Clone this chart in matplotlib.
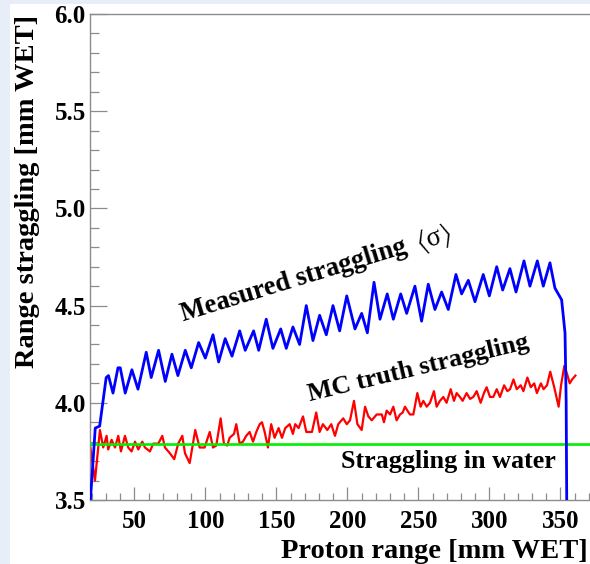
import matplotlib
matplotlib.use("Agg")
import matplotlib.pyplot as plt
from matplotlib.patches import Rectangle
from matplotlib.ticker import MultipleLocator, FormatStrFormatter

plt.rcParams['font.family'] = ['Liberation Serif', 'DejaVu Serif']
plt.rcParams['mathtext.fontset'] = 'stix'

# measured straggling <sigma> vs proton range
meas_x = [19.0, 22.4, 25.5, 30.1, 31.7, 34.9, 38.4, 40.0, 43.5, 48.2, 52.5, 58.3,
          61.8, 67.0, 71.7, 76.4, 80.6, 85.8, 90.0, 95.2, 99.9, 105.3, 109.3, 113.9,
          118.7, 124.1, 128.0, 133.9, 137.5, 142.8, 147.5, 153.0, 156.9, 161.6, 166.3,
          171.0, 175.7, 180.4, 185.1, 189.8, 194.5, 199.5, 205.3, 210.0, 214.0, 218.7,
          222.9, 228.0, 232.3, 237.5, 241.7, 247.5, 252.2, 256.9, 261.6, 266.3, 271.0,
          276.4, 280.4, 285.1, 289.8, 295.6, 299.9, 305.1, 309.3, 314.4, 318.7, 324.3,
          328.5, 333.7, 337.9, 342.6, 346.1, 350.8, 353.2, 354.0, 354.4]
meas_y = [3.50, 3.87, 3.88, 4.13, 4.14, 4.05, 4.18, 4.18, 4.05, 4.17, 4.07, 4.26,
          4.13, 4.27, 4.11, 4.25, 4.14, 4.27, 4.18, 4.31, 4.23, 4.35, 4.21, 4.33,
          4.24, 4.37, 4.27, 4.37, 4.27, 4.43, 4.28, 4.38, 4.28, 4.39, 4.30,
          4.50, 4.32, 4.45, 4.35, 4.50, 4.37, 4.55, 4.38, 4.46, 4.36, 4.62,
          4.43, 4.56, 4.43, 4.56, 4.46, 4.60, 4.42, 4.61, 4.48, 4.57, 4.48,
          4.66, 4.56, 4.63, 4.52, 4.66, 4.55, 4.70, 4.58, 4.69, 4.57, 4.73,
          4.60, 4.73, 4.60, 4.72, 4.59, 4.53, 4.36, 4.01, 3.50]

# MC truth straggling
mc_x = [19.0, 22.2, 25.7, 28.0, 30.4, 31.5, 33.9, 36.3, 38.6, 40.5, 43.3, 45.6,
        48.0, 50.4, 52.7, 55.5, 57.4, 60.9, 63.2, 66.8, 69.6, 71.5, 75.0, 78.0,
        80.8, 83.7, 85.6, 88.9, 92.8, 95.9, 99.4, 103.0, 105.3, 107.6, 110.7, 113.0,
        115.4, 117.0, 120.1, 121.7, 124.1, 126.4, 128.7, 131.1, 133.5, 135.8, 138.2,
        139.8, 141.7, 144.0, 146.3, 148.7, 151.5, 153.9, 156.2, 159.3, 161.6, 163.2,
        165.6, 168.7, 171.0, 175.0, 178.0, 180.4, 182.7, 185.8, 188.6, 191.2, 193.5,
        197.0, 199.5, 201.8, 204.6, 207.0, 210.0, 212.4, 214.7, 217.1, 220.6, 224.2,
        225.7, 227.6, 230.0, 232.3, 234.6, 237.0, 238.9, 240.5, 242.2, 244.0, 246.4,
        249.2, 251.5, 253.4, 255.8, 258.1, 260.9, 262.8, 265.1, 267.5, 269.8, 272.7,
        275.0, 276.9, 279.2, 281.1, 283.9, 286.3, 288.6, 291.0, 293.8, 296.1, 298.0,
        300.4, 302.7, 305.1, 307.4, 310.3, 312.6, 314.5, 316.9, 319.2, 322.0, 323.9,
        326.7, 329.1, 331.5, 333.4, 336.2, 338.1, 340.5, 342.8, 345.6, 348.7, 350.4,
        352.7, 354.6, 356.5, 358.2, 360.5]
mc_y = [3.77, 3.60, 3.86, 3.77, 3.83, 3.76, 3.81, 3.77, 3.83, 3.75, 3.83, 3.77,
        3.75, 3.80, 3.76, 3.80, 3.77, 3.75, 3.79, 3.79, 3.83, 3.77, 3.74, 3.71,
        3.79, 3.83, 3.74, 3.69, 3.86, 3.77, 3.77, 3.85, 3.77, 3.78, 3.92, 3.79,
        3.78, 3.82, 3.84, 3.89, 3.79, 3.80, 3.83, 3.85, 3.80, 3.85, 3.89,
        3.90, 3.85, 3.77, 3.89, 3.82, 3.87, 3.82, 3.87, 3.89, 3.84, 3.89,
        3.87, 3.93, 3.85, 3.85, 3.95, 3.85, 3.89, 3.86, 3.89, 3.83, 3.89,
        3.92, 3.89, 3.91, 4.01, 3.89, 3.86, 3.98, 3.93, 3.91, 3.94, 3.94,
        3.90, 3.96, 3.94, 3.98, 3.91, 3.94, 3.95, 3.98, 3.96, 3.94, 3.94,
        4.05, 3.98, 4.01, 3.98, 4.00, 4.06, 3.98, 4.01, 4.03, 4.00, 4.07,
        4.01, 4.05, 4.03, 4.01, 4.05, 4.02, 4.03, 4.06, 4.00, 4.05, 4.08,
        4.03, 4.03, 4.07, 4.03, 4.09, 4.06, 4.07, 4.12, 4.07, 4.09, 4.06,
        4.13, 4.08, 4.10, 4.05, 4.10, 4.07, 4.09, 4.16, 4.08, 3.98, 4.09,
        4.19, 4.15, 4.10, 4.12, 4.14]

water_level = 3.788

W, H = 590, 564
def fpos(x, y):
    # pixel position (from top left) -> figure fraction
    return x / W, 1 - y / H

fig = plt.figure(figsize=(W / 100, H / 100), dpi=100, facecolor='#e8eef8')
fig.patches.append(Rectangle((10 / W, 0), 1, 1 - 4 / H, transform=fig.transFigure,
                             facecolor='white', edgecolor='none', zorder=-1))

ax = fig.add_axes([90 / W, 64 / H, 502 / W, 486 / H])
ax.plot(mc_x, mc_y, color='#ff0000', lw=1.6, zorder=2)
ax.axhline(water_level, color='#00ee00', lw=1.9, zorder=3)
ax.plot(meas_x, meas_y, color='#0000ff', lw=2.0, zorder=4)

ax.set_xlim(18.7, 372.2)
ax.set_ylim(3.5, 6.0)
ax.xaxis.set_major_locator(MultipleLocator(50))
ax.xaxis.set_minor_locator(MultipleLocator(10))
ax.yaxis.set_major_locator(MultipleLocator(0.5))
ax.yaxis.set_minor_locator(MultipleLocator(0.1))
ax.yaxis.set_major_formatter(FormatStrFormatter('%.1f'))

for s in ax.spines.values():
    s.set_color('#8c8c8c')
    s.set_linewidth(1.0)
ax.tick_params(which='both', direction='in', color='#8c8c8c', width=0.9,
               labelsize=18, top=False, right=False)
ax.tick_params(axis='y', which='major', length=12, pad=3)
ax.tick_params(axis='y', which='minor', length=6.7)
ax.tick_params(axis='x', which='major', length=9.4, pad=7)
ax.tick_params(axis='x', which='minor', length=5)
for lab in ax.get_xticklabels() + ax.get_yticklabels():
    lab.set_fontweight('bold')

fig.text(*fpos(28, 15), 'Range straggling [mm WET]', rotation=90, ha='center',
         va='top', fontsize=20.5, fontweight='bold')
fig.text(*fpos(588, 558), 'Proton range [mm WET]', ha='right', va='baseline',
         fontsize=20.5, fontweight='bold')

fig.text(*fpos(183, 321), 'Measured straggling', rotation=17, rotation_mode='anchor',
         ha='left', va='baseline', fontsize=19.3, fontweight='bold')
fig.text(*fpos(419, 250), r'$\langle$σ$\rangle$', rotation=17, rotation_mode='anchor',
         ha='left', va='baseline', fontsize=19.3)
fig.text(*fpos(310, 401), 'MC truth straggling', rotation=13.5, rotation_mode='anchor',
         ha='left', va='baseline', fontsize=18.8, fontweight='bold')
fig.text(*fpos(341, 468), 'Straggling in water', ha='left', va='baseline',
         fontsize=18.8, fontweight='bold')

fig.savefig('out.png', dpi=100, facecolor=fig.get_facecolor())
